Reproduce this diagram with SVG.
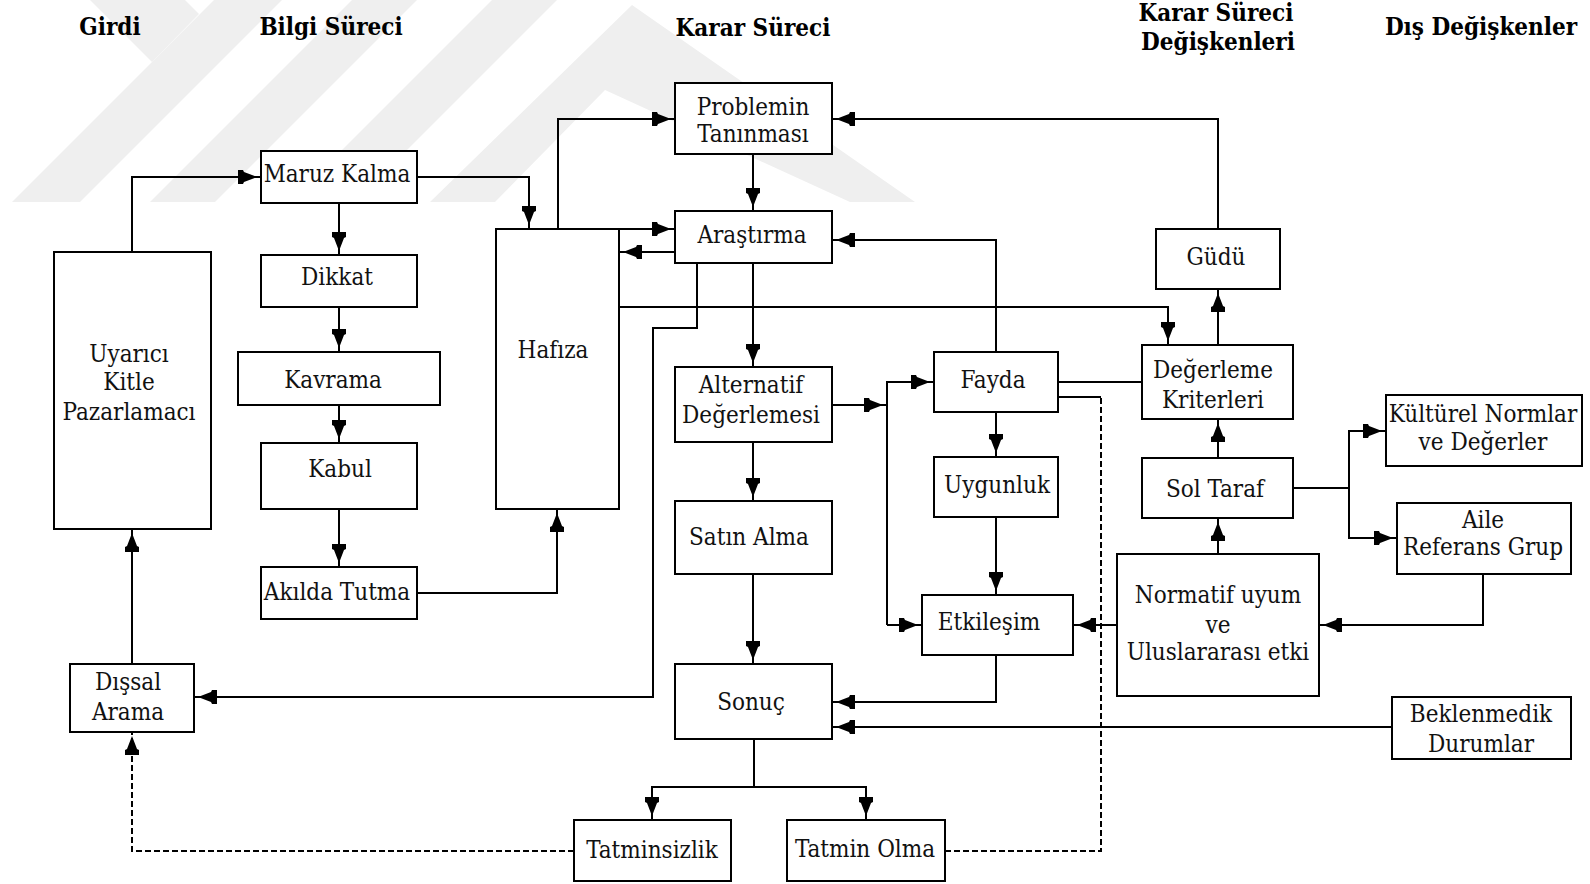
<svg xmlns="http://www.w3.org/2000/svg" width="1590" height="884" viewBox="0 0 1590 884">
  <style>
    .wm { fill: #efefef; stroke: none; }
    .box { fill: #ffffff; stroke: #000000; stroke-width: 2; }
    .lbl { font-family: "DejaVu Serif Condensed", "DejaVu Serif", serif; font-stretch: condensed; font-size: 24px; fill: #111111; text-anchor: middle; }
    .hdr { font-family: "DejaVu Serif Condensed", "DejaVu Serif", serif; font-stretch: condensed; font-weight: bold; font-size: 24px; fill: #000000; text-anchor: middle; }
    .ln { fill: none; stroke: #000000; stroke-width: 2; }
    .arr { marker-end: url(#ah); }
    .dash { stroke-dasharray: 6 3; }
  </style>
  <defs>
    <marker id="ah" viewBox="0 -8 24 16" refX="23" refY="0" markerWidth="24" markerHeight="16" markerUnits="userSpaceOnUse" orient="auto">
      <path d="M0,-7 L5,-7 L6,-5 L19,0 L6,5 L5,7 L0,7 Z" fill="#000000"/>
    </marker>
  </defs>

  <rect width="1590" height="884" fill="#ffffff"/>

  <!-- faint background emblem -->
  <g id="emblem">
    <polygon class="wm" points="90,0 185,0 199,14 152,62"/>
    <polygon class="wm" points="12,202 80,202 282,0 214,0"/>
    <polygon class="wm" points="150,202 215,202 417,0 352,0"/>
    <polygon class="wm" points="290,202 355,202 557,0 492,0"/>
    <polygon class="wm" points="430,202 495,202 605,90 850,202 915,202 632,5"/>
  </g>

  <!-- column headings -->
  <g id="headings">
    <text class="hdr" x="110" y="35">Girdi</text>
    <text class="hdr" x="331" y="35">Bilgi Süreci</text>
    <text class="hdr" x="753" y="36">Karar Süreci</text>
    <text class="hdr" x="1216" y="21">Karar Süreci</text>
    <text class="hdr" x="1218" y="50">Değişkenleri</text>
    <text class="hdr" x="1481" y="35">Dış Değişkenler</text>
  </g>

  <!-- connectors -->
  <g id="connectors">
    <path class="ln arr" d="M132,252 V177 H261"/>
    <path class="ln arr" d="M417,177 H529 V229"/>
    <path class="ln arr" d="M339,203 V255"/>
    <path class="ln arr" d="M339,307 V352"/>
    <path class="ln arr" d="M339,405 V443"/>
    <path class="ln arr" d="M339,509 V567"/>
    <path class="ln arr" d="M417,593 H557 V509"/>
    <path class="ln arr" d="M558,229 V119 H675"/>
    <path class="ln arr" d="M619,229 H675"/>
    <path class="ln arr" d="M675,252 H619"/>
    <path class="ln arr" d="M753,154 V211"/>
    <path class="ln arr" d="M753,263 V367"/>
    <path class="ln arr" d="M697,263 V328 H653 V697 H194"/>
    <path class="ln arr" d="M619,307 H1168 V345"/>
    <path class="ln arr" d="M996,352 V240 H832"/>
    <path class="ln arr" d="M832,405 H887"/>
    <path class="ln arr" d="M887,625 V382 H934"/>
    <path class="ln arr" d="M887,625 H922"/>
    <path class="ln arr" d="M996,412 V457"/>
    <path class="ln arr" d="M996,517 V595"/>
    <path class="ln" d="M1058,382 H1142"/>
    <path class="ln" d="M1058,397 H1101"/>
    <path class="ln dash" d="M945,851 H1101 V397"/>
    <path class="ln arr" d="M1218,345 V289"/>
    <path class="ln arr" d="M1218,229 V119 H832"/>
    <path class="ln arr" d="M1218,458 V419"/>
    <path class="ln arr" d="M1218,554 V518"/>
    <path class="ln arr" d="M1293,488 H1349 V431 H1386"/>
    <path class="ln arr" d="M1349,488 V538 H1397"/>
    <path class="ln arr" d="M1483,574 V625 H1319"/>
    <path class="ln arr" d="M1117,625 H1073"/>
    <path class="ln arr" d="M996,655 V702 H832"/>
    <path class="ln arr" d="M1392,727 H832"/>
    <path class="ln arr" d="M753,442 V501"/>
    <path class="ln arr" d="M753,574 V664"/>
    <path class="ln arr" d="M754,739 V787 H652 V820"/>
    <path class="ln arr" d="M754,787 H866 V820"/>
    <path class="ln arr" d="M132,664 V529"/>
    <path class="ln arr dash" d="M574,851 H132 V732"/>
  </g>

  <!-- nodes -->
  <g id="uyarici">
    <rect class="box" x="54" y="252" width="157" height="277"/>
    <text class="lbl" x="129" y="362">Uyarıcı</text>
    <text class="lbl" x="129" y="390">Kitle</text>
    <text class="lbl" x="129" y="420">Pazarlamacı</text>
  </g>
  <g id="disal-arama">
    <rect class="box" x="70" y="664" width="124" height="68"/>
    <text class="lbl" x="128" y="690">Dışsal</text>
    <text class="lbl" x="128" y="720">Arama</text>
  </g>
  <g id="maruz-kalma">
    <rect class="box" x="261" y="151" width="156" height="52"/>
    <text class="lbl" x="337" y="182">Maruz Kalma</text>
  </g>
  <g id="dikkat">
    <rect class="box" x="261" y="255" width="156" height="52"/>
    <text class="lbl" x="337" y="285">Dikkat</text>
  </g>
  <g id="kavrama">
    <rect class="box" x="238" y="352" width="202" height="53"/>
    <text class="lbl" x="333" y="388">Kavrama</text>
  </g>
  <g id="kabul">
    <rect class="box" x="261" y="443" width="156" height="66"/>
    <text class="lbl" x="340" y="477">Kabul</text>
  </g>
  <g id="akilda-tutma">
    <rect class="box" x="261" y="567" width="156" height="52"/>
    <text class="lbl" x="337" y="600">Akılda Tutma</text>
  </g>
  <g id="hafiza">
    <rect class="box" x="496" y="229" width="123" height="280"/>
    <text class="lbl" x="553" y="358">Hafıza</text>
  </g>
  <g id="problemin">
    <rect class="box" x="675" y="83" width="157" height="71"/>
    <text class="lbl" x="753" y="115">Problemin</text>
    <text class="lbl" x="753" y="142">Tanınması</text>
  </g>
  <g id="arastirma">
    <rect class="box" x="675" y="211" width="157" height="52"/>
    <text class="lbl" x="752" y="243">Araştırma</text>
  </g>
  <g id="alternatif">
    <rect class="box" x="675" y="367" width="157" height="75"/>
    <text class="lbl" x="751" y="393">Alternatif</text>
    <text class="lbl" x="751" y="423">Değerlemesi</text>
  </g>
  <g id="satin-alma">
    <rect class="box" x="675" y="501" width="157" height="73"/>
    <text class="lbl" x="749" y="545">Satın Alma</text>
  </g>
  <g id="sonuc">
    <rect class="box" x="675" y="664" width="157" height="75"/>
    <text class="lbl" x="751" y="710">Sonuç</text>
  </g>
  <g id="tatminsizlik">
    <rect class="box" x="574" y="820" width="157" height="61"/>
    <text class="lbl" x="652" y="858">Tatminsizlik</text>
  </g>
  <g id="tatmin-olma">
    <rect class="box" x="787" y="820" width="158" height="61"/>
    <text class="lbl" x="865" y="857">Tatmin Olma</text>
  </g>
  <g id="fayda">
    <rect class="box" x="934" y="352" width="124" height="60"/>
    <text class="lbl" x="993" y="388">Fayda</text>
  </g>
  <g id="uygunluk">
    <rect class="box" x="934" y="457" width="124" height="60"/>
    <text class="lbl" x="997" y="493">Uygunluk</text>
  </g>
  <g id="etkilesim">
    <rect class="box" x="922" y="595" width="151" height="60"/>
    <text class="lbl" x="989" y="630">Etkileşim</text>
  </g>
  <g id="gudu">
    <rect class="box" x="1156" y="229" width="124" height="60"/>
    <text class="lbl" x="1216" y="265">Güdü</text>
  </g>
  <g id="degerleme-kriterleri">
    <rect class="box" x="1142" y="345" width="151" height="74"/>
    <text class="lbl" x="1213" y="378">Değerleme</text>
    <text class="lbl" x="1213" y="408">Kriterleri</text>
  </g>
  <g id="sol-taraf">
    <rect class="box" x="1142" y="458" width="151" height="60"/>
    <text class="lbl" x="1215" y="497">Sol Taraf</text>
  </g>
  <g id="normatif">
    <rect class="box" x="1117" y="554" width="202" height="142"/>
    <text class="lbl" x="1218" y="603">Normatif uyum</text>
    <text class="lbl" x="1218" y="633">ve</text>
    <text class="lbl" x="1218" y="660">Uluslararası etki</text>
  </g>
  <g id="kulturel">
    <rect class="box" x="1386" y="395" width="196" height="71"/>
    <text class="lbl" x="1483" y="422">Kültürel Normlar</text>
    <text class="lbl" x="1483" y="450">ve Değerler</text>
  </g>
  <g id="aile">
    <rect class="box" x="1397" y="503" width="174" height="71"/>
    <text class="lbl" x="1483" y="528">Aile</text>
    <text class="lbl" x="1483" y="555">Referans Grup</text>
  </g>
  <g id="beklenmedik">
    <rect class="box" x="1392" y="697" width="179" height="62"/>
    <text class="lbl" x="1481" y="722">Beklenmedik</text>
    <text class="lbl" x="1481" y="752">Durumlar</text>
  </g>
</svg>
